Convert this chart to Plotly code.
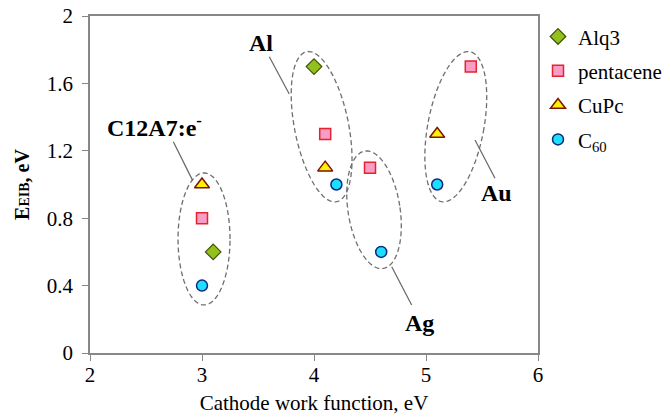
import numpy as np
import plotly.graph_objects as go

# ---- data ----
series_names = ["Alq3", "pentacene", "CuPc", "C<sub>60</sub>"]
alq3_x = [3.1, 4.0]
alq3_y = [0.6, 1.7]
pentacene_x = [3.0, 4.1, 4.5, 5.4]
pentacene_y = [0.8, 1.3, 1.1, 1.7]
cupc_x = [3.0, 4.1, 5.1]
cupc_y = [1.0, 1.1, 1.3]
c60_x = [3.0, 4.2, 4.6, 5.1]
c60_y = [0.4, 1.0, 0.6, 1.0]

x_ticks = [2, 3, 4, 5, 6]
y_ticks = [0, 0.4, 0.8, 1.2, 1.6, 2]
y_ticktext = ["0", "0.4", "0.8", "1.2", "1.6", "2"]

# group labels: text, anchor, label position (data), leader start / end (data)
group_labels = ["C12A7:e<sup>-</sup>", "Al", "Ag", "Au"]
label_anchor = ["left", "center", "center", "center"]
label_x = [2.13, 3.527, 4.946, 5.625]
label_y = [1.35, 1.840, 0.178, 0.950]
leader_x0 = [2.744, 3.601, 4.694, 5.4375]
leader_y0 = [1.254, 1.758, 0.512, 1.264]
leader_x1 = [2.917, 3.779, 4.872, 5.616]
leader_y1 = [1.023, 1.537, 0.285, 1.037]

# ellipses: centre (data), semi-major / semi-minor (in screen px), tilt (deg)
ell_cx = [3.018, 4.068, 4.536, 5.266]
ell_cy = [0.677, 1.343, 0.850, 1.343]
ell_a = [66, 76.5, 59.4, 76.3]
ell_b = [26, 27, 26, 28]
ell_tilt = [0, 11.3, 8.9, -10.7]

# ---- layout geometry ----
W, H = 671, 417
ML, MR, MT, MB = 90, 133, 16, 64
XR = [2, 6]
YR = [0, 2]
px_x = (W - ML - MR) / (XR[1] - XR[0])
px_y = (H - MT - MB) / (YR[1] - YR[0])

FONT = "Liberation Serif"
AX = "#878787"

fig = go.Figure()

fig.add_trace(go.Scatter(x=alq3_x, y=alq3_y, mode="markers", name=series_names[0],
                         legendgroup="a",
                         marker=dict(symbol="diamond", size=12, color="#92C11C",
                                     line=dict(color="#3E5208", width=1.2))))
fig.add_trace(go.Scatter(x=pentacene_x, y=pentacene_y, mode="markers", name=series_names[1],
                         legendgroup="b",
                         marker=dict(symbol="square", size=11, color="#FA9DC4",
                                     line=dict(color="#E3232F", width=1.5))))
fig.add_trace(go.Scatter(x=cupc_x, y=cupc_y, mode="markers", name=series_names[2],
                         legendgroup="c",
                         marker=dict(symbol="triangle-up", size=13, color="#FFF200",
                                     line=dict(color="#7A1500", width=1.5))))
fig.add_trace(go.Scatter(x=c60_x, y=c60_y, mode="markers", name=series_names[3],
                         legendgroup="d",
                         marker=dict(symbol="circle", size=11, color="#1EDFFF",
                                     line=dict(color="#0A2A80", width=1.5))))

shapes = []
t = np.linspace(0, 2 * np.pi, 121)
for cx, cy, a, b, tilt in zip(ell_cx, ell_cy, ell_a, ell_b, ell_tilt):
    th = np.radians(tilt)
    u = b * np.cos(t)
    v = a * np.sin(t)
    dx = u * np.cos(th) - v * np.sin(th)
    dy = u * np.sin(th) + v * np.cos(th)
    xs = cx + dx / px_x
    ys = cy + dy / px_y
    path = "M " + " L ".join(f"{xx:.4f},{yy:.4f}" for xx, yy in zip(xs, ys)) + " Z"
    shapes.append(dict(type="path", xref="x", yref="y", path=path,
                       line=dict(color="#6E6E6E", width=1.3, dash="5px,3px"),
                       layer="below"))
for x0, y0, x1, y1 in zip(leader_x0, leader_y0, leader_x1, leader_y1):
    shapes.append(dict(type="line", xref="x", yref="y", x0=x0, y0=y0, x1=x1, y1=y1,
                       line=dict(color="#666666", width=1.2), layer="below"))

annotations = []
for txt, anc, lx, ly in zip(group_labels, label_anchor, label_x, label_y):
    annotations.append(dict(x=lx, y=ly, xref="x", yref="y", text=f"<b>{txt}</b>",
                            showarrow=False, font=dict(family=FONT, size=24, color="black"),
                            xanchor=anc, yanchor="middle"))

fig.update_layout(
    width=W, height=H,
    margin=dict(l=ML, r=MR, t=MT, b=MB, autoexpand=False),
    paper_bgcolor="white", plot_bgcolor="white",
    font=dict(family=FONT, size=21, color="black"),
    shapes=shapes, annotations=annotations,
    showlegend=True,
    legend=dict(x=1.0, y=0.999, xanchor="left", yanchor="top",
                font=dict(family=FONT, size=21, color="black"),
                bgcolor="rgba(0,0,0,0)", tracegroupgap=4, itemwidth=30),
    xaxis=dict(range=XR, tickvals=x_ticks, ticks="outside", ticklen=6, tickcolor=AX,
               tickwidth=1.3, showline=True, linecolor=AX, linewidth=1.5, mirror=True,
               showgrid=False, zeroline=False, automargin=False, ticklabelstandoff=-4,
               tickfont=dict(family=FONT, size=21, color="black"),
               title=dict(text="Cathode work function, eV", standoff=9,
                          font=dict(family=FONT, size=21, color="black"))),
    yaxis=dict(range=YR, tickvals=y_ticks, ticktext=y_ticktext, ticks="outside", ticklen=6,
               tickcolor=AX, tickwidth=1.3, showline=True, linecolor=AX, linewidth=1.5,
               mirror=True, showgrid=False, zeroline=False, automargin=False,
               ticklabelstandoff=5,
               tickfont=dict(family=FONT, size=21, color="black"),
               title=dict(text="<b>E<span style='font-size:14px'>EIB</span>, eV</b>", standoff=12,
                          font=dict(family=FONT, size=20, color="black"))),
)

fig.write_html("out.html")
